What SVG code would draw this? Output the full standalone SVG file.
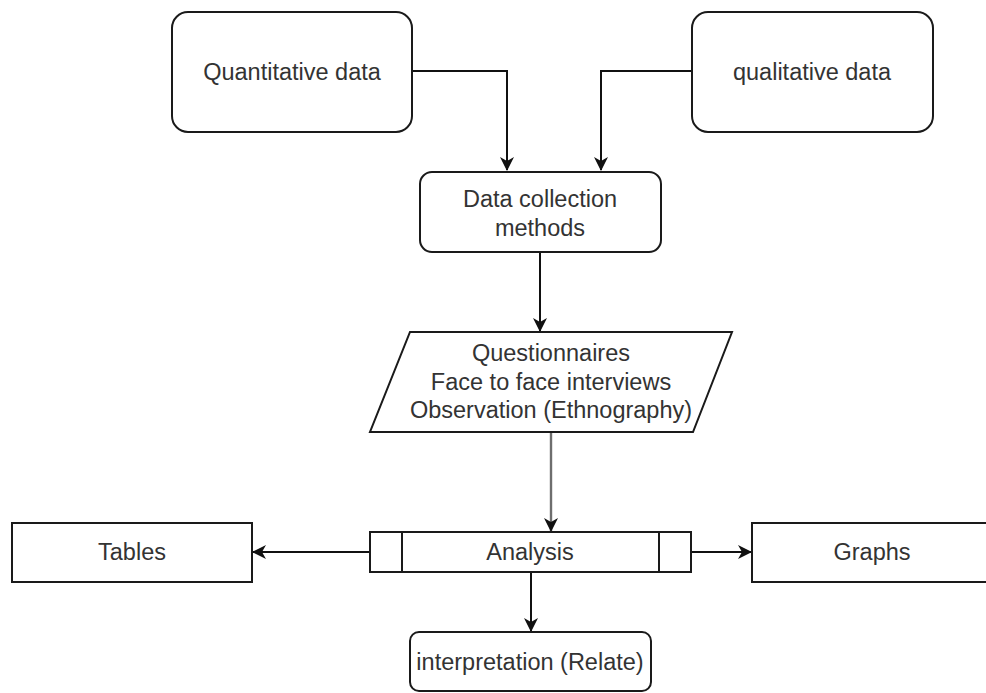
<svg xmlns="http://www.w3.org/2000/svg" width="986" height="693" viewBox="0 0 986 693">
  <style>
    .box { fill: #ffffff; stroke: #1a1a1a; stroke-width: 2; }
    .lbl { font-family: "Liberation Sans", Arial, sans-serif; font-size: 23.5px; fill: #333333; text-anchor: middle; }
    .edge { fill: none; stroke: #111111; stroke-width: 2; }
    .edge.soft { stroke: #6e6e6e; stroke-width: 2.4; }
  </style>
  <defs>
    <marker id="arrow" viewBox="0 0 14 14" refX="13" refY="7" markerWidth="14" markerHeight="14" markerUnits="userSpaceOnUse" orient="auto">
      <path d="M0,0 L14,7 L0,14 L4,7 Z" fill="#111111"/>
    </marker>
  </defs>
  <rect width="986" height="693" fill="#ffffff"/>

  <!-- connectors -->
  <g id="connectors">
    <path class="edge" d="M412,71 H507 V170" marker-end="url(#arrow)"/>
    <path class="edge" d="M692,71 H601 V170" marker-end="url(#arrow)"/>
    <path class="edge" d="M540,252 V331" marker-end="url(#arrow)"/>
    <path class="edge soft" d="M551,432 V531" marker-end="url(#arrow)"/>
    <path class="edge" d="M370,552 H253" marker-end="url(#arrow)"/>
    <path class="edge" d="M691,552 H751" marker-end="url(#arrow)"/>
    <path class="edge" d="M531,572 V631" marker-end="url(#arrow)"/>
  </g>

  <!-- nodes -->
  <g id="quantitative">
    <rect class="box" x="172" y="12" width="240" height="120" rx="16"/>
    <text class="lbl" x="292" y="80">Quantitative data</text>
  </g>
  <g id="qualitative">
    <rect class="box" x="692" y="12" width="241" height="120" rx="16"/>
    <text class="lbl" x="812" y="80">qualitative data</text>
  </g>
  <g id="collection">
    <rect class="box" x="420" y="172" width="241" height="80" rx="12"/>
    <text class="lbl" x="540" y="207">Data collection</text>
    <text class="lbl" x="540" y="236">methods</text>
  </g>
  <g id="methods">
    <polygon class="box" points="410,332 732,332 693,432 370,432"/>
    <text class="lbl" x="551" y="361">Questionnaires</text>
    <text class="lbl" x="551" y="390">Face to face interviews</text>
    <text class="lbl" x="551" y="418">Observation (Ethnography)</text>
  </g>
  <g id="analysis">
    <rect class="box" x="370" y="532" width="321" height="40"/>
    <line class="box" x1="402" y1="532" x2="402" y2="572"/>
    <line class="box" x1="659" y1="532" x2="659" y2="572"/>
    <text class="lbl" x="530" y="560">Analysis</text>
  </g>
  <g id="tables">
    <rect class="box" x="12" y="523" width="240" height="59"/>
    <text class="lbl" x="132" y="560">Tables</text>
  </g>
  <g id="graphs">
    <rect class="box" x="752" y="523" width="240" height="59"/>
    <text class="lbl" x="872" y="560">Graphs</text>
  </g>
  <g id="interpretation">
    <rect class="box" x="410" y="632" width="241" height="59" rx="9"/>
    <text class="lbl" x="530" y="670">interpretation (Relate)</text>
  </g>
</svg>
